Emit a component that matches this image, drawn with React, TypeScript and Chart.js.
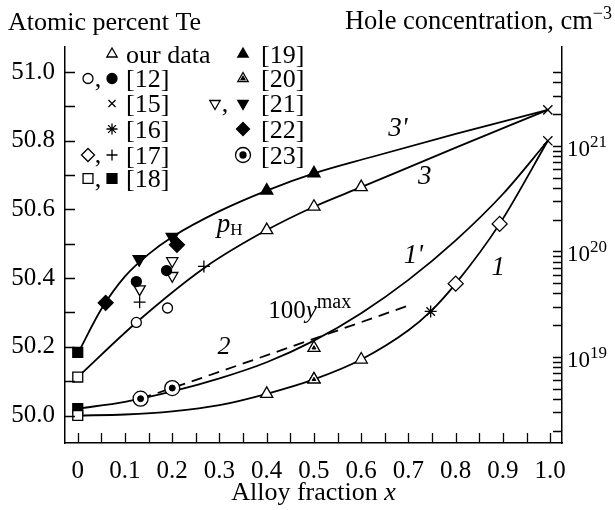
import React, { useEffect, useRef } from "react";
import { Chart, registerables } from "chart.js";
import { drawPoint } from "chart.js/helpers";

Chart.register(...registerables);

const FAMILY = "'Liberation Serif', 'Times New Roman', serif";
const f = (size: number, style = "normal") => `${style} ${size}px ${FAMILY}`;

// ---- axis ranges ----
const X_MIN = -0.027;
const X_MAX = 1.025;
const Y_MIN = 49.92;
const Y_MAX = 51.073;
const HOLE_MIN = 1.53e18;
const HOLE_MAX = 8.67e21;

// ---- ticks ----
const xTickValues = [0, 0.1, 0.2, 0.3, 0.4, 0.5, 0.6, 0.7, 0.8, 0.9, 1.0];
const xTickLabels = ["0", "0.1", "0.2", "0.3", "0.4", "0.5", "0.6", "0.7", "0.8", "0.9", "1.0"];
const xMinorTickValues = [0, 0.05, 0.1, 0.15, 0.2, 0.25, 0.3, 0.35, 0.4, 0.45, 0.5, 0.55, 0.6, 0.65, 0.7, 0.75, 0.8, 0.85, 0.9, 0.95, 1.0];
const yTickValues = [50.0, 50.2, 50.4, 50.6, 50.8, 51.0];
const yTickLabels = ["50.0", "50.2", "50.4", "50.6", "50.8", "51.0"];
const yMinorTickValues = [50.0, 50.1, 50.2, 50.3, 50.4, 50.5, 50.6, 50.7, 50.8, 50.9, 51.0];
const holeLabelExponents = [19, 20, 21];
const holeTickValues = [
  2e18, 3e18, 4e18, 5e18, 6e18, 7e18, 8e18, 9e18,
  1e19, 2e19, 3e19, 4e19, 5e19, 6e19, 7e19, 8e19, 9e19,
  1e20, 2e20, 3e20, 4e20, 5e20, 6e20, 7e20, 8e20, 9e20,
  1e21, 2e21, 3e21, 4e21, 5e21,
];

// ---- curves ----
const curve3pX = [0, 0.05, 0.1, 0.15, 0.2, 0.3, 0.4, 0.5, 0.62, 0.8, 0.995];
const curve3pY = [50.18, 50.31, 50.405, 50.47, 50.52, 50.595, 50.655, 50.705, 50.752, 50.82, 50.89];
const curve3X = [0, 0.124, 0.27, 0.4, 0.5, 0.6, 0.8, 0.995];
const curve3Y = [50.112, 50.271, 50.432, 50.54, 50.608, 50.665, 50.78, 50.89];
const curve1pX = [0, 0.1, 0.2, 0.3, 0.4, 0.5, 0.6, 0.7, 0.8, 0.9, 0.995];
const curve1pY = [50.02, 50.04, 50.07, 50.108, 50.155, 50.218, 50.298, 50.395, 50.51, 50.645, 50.8];
const curve1X = [0, 0.1, 0.2, 0.3, 0.4, 0.5, 0.6, 0.7, 0.747, 0.8, 0.893, 0.995];
const curve1Y = [50.0, 50.003, 50.012, 50.03, 50.063, 50.105, 50.163, 50.248, 50.303, 50.384, 50.558, 50.8];
const curve2X = [0.133, 0.2, 0.7];
const curve2Y = [50.049, 50.08, 50.32];

// ---- markers ----
const ourDataX = [0.4, 0.5, 0.6, 0.4, 0.5, 0.6];
const ourDataY = [50.54, 50.608, 50.665, 50.063, 50.105, 50.163];
const ref12OpenX = [0.124, 0.19];
const ref12OpenY = [50.271, 50.313];
const ref12FilledX = [0.124, 0.188];
const ref12FilledY = [50.39, 50.422];
const ref15X = [0.995, 0.995];
const ref15Y = [50.89, 50.8];
const ref16X = [0.747];
const ref16Y = [50.303];
const ref17DiamondX = [0.8, 0.893];
const ref17DiamondY = [50.384, 50.558];
const ref17PlusX = [0.131, 0.267];
const ref17PlusY = [50.33, 50.434];
const ref18OpenX = [0, 0];
const ref18OpenY = [50.0, 50.112];
const ref18FilledX = [0, 0];
const ref18FilledY = [50.02, 50.184];
const ref19X = [0.4, 0.5];
const ref19Y = [50.655, 50.705];
const ref20X = [0.5, 0.5];
const ref20Y = [50.197, 50.105];
const ref21OpenX = [0.131, 0.2, 0.2];
const ref21OpenY = [50.368, 50.45, 50.407];
const ref21FilledX = [0.13, 0.2];
const ref21FilledY = [50.455, 50.52];
const ref22X = [0.059, 0.21];
const ref22Y = [50.328, 50.497];
const ref23X = [0.133, 0.2];
const ref23Y = [50.049, 50.08];

const legendLeftLabels = ["our data", "[12]", "[15]", "[16]", "[17]", "[18]"];
const legendRightLabels = ["[19]", "[20]", "[21]", "[22]", "[23]"];

const pts = (xs: number[], ys: number[]) => xs.map((x, i) => ({ x, y: ys[i] }));

const BLACK = "#000";
const WHITE = "#fff";

function markerSet(xs: number[], ys: number[], style: string, radius: number, filled: boolean, rotation = 0, bw = 1.3) {
  return {
    data: pts(xs, ys),
    showLine: false,
    pointStyle: style,
    pointRadius: radius,
    pointRotation: rotation,
    pointBackgroundColor: filled ? BLACK : WHITE,
    pointBorderColor: BLACK,
    pointBorderWidth: bw,
    order: 0,
  };
}

function curveSet(xs: number[], ys: number[], dash: number[] = []) {
  return {
    data: pts(xs, ys),
    showLine: true,
    borderColor: BLACK,
    borderWidth: 1.8,
    borderDash: dash,
    pointRadius: 0,
    cubicInterpolationMode: "monotone",
    order: 1,
  };
}

type Sym =
  | "triOpen" | "triFilled" | "triDot" | "triDownOpen" | "triDownFilled"
  | "circOpen" | "circFilled" | "crossRot" | "star" | "cross"
  | "diaOpen" | "diaFilled" | "sqOpen" | "sqFilled" | "circDot";

function drawSym(ctx: CanvasRenderingContext2D, kind: Sym, x: number, y: number) {
  ctx.save();
  ctx.strokeStyle = BLACK;
  ctx.lineWidth = 1.3;
  const p = (style: string, radius: number, filled: boolean, rotation = 0) => {
    ctx.fillStyle = filled ? BLACK : WHITE;
    drawPoint(ctx, { pointStyle: style, radius, rotation, borderWidth: 1.3 } as any, x, y);
  };
  switch (kind) {
    case "triOpen": p("triangle", 6, false); break;
    case "triFilled": p("triangle", 6, true); break;
    case "triDot": p("triangle", 6, false); p("triangle", 2.2, true); break;
    case "triDownOpen": p("triangle", 6, false, 180); break;
    case "triDownFilled": p("triangle", 6, true, 180); break;
    case "circOpen": p("circle", 5, false); break;
    case "circFilled": p("circle", 5, true); break;
    case "crossRot": p("crossRot", 5, false); break;
    case "star": p("star", 5.5, false); break;
    case "cross": p("cross", 5.5, false); break;
    case "diaOpen": p("rectRot", 6.5, false); break;
    case "diaFilled": p("rectRot", 6.5, true); break;
    case "sqOpen": p("rect", 7, false); break;
    case "sqFilled": p("rect", 7, true); break;
    case "circDot": p("circle", 7.5, false); p("circle", 3, true); break;
  }
  ctx.restore();
}

type Run = { t: string; font: string; dy?: number };
function drawRuns(ctx: CanvasRenderingContext2D, x: number, y: number, parts: Run[], align: "left" | "center" | "right" = "left") {
  let total = 0;
  for (const r of parts) {
    ctx.font = r.font;
    total += ctx.measureText(r.t).width;
  }
  let cx = align === "left" ? x : align === "center" ? x - total / 2 : x - total;
  ctx.textAlign = "left";
  ctx.textBaseline = "alphabetic";
  for (const r of parts) {
    ctx.font = r.font;
    ctx.fillText(r.t, cx, y + (r.dy || 0));
    cx += ctx.measureText(r.t).width;
  }
}

const overlayPlugin = {
  id: "overlay",
  afterDraw(chart: any) {
    const ctx: CanvasRenderingContext2D = chart.ctx;
    const xs = chart.scales.x;
    const ys = chart.scales.y;
    const hs = chart.scales.y2;
    const a = chart.chartArea;
    ctx.save();
    ctx.strokeStyle = BLACK;
    ctx.fillStyle = BLACK;
    ctx.lineWidth = 1.3;

    // inward tick marks
    ctx.beginPath();
    for (const v of xMinorTickValues) {
      const px = Math.round(xs.getPixelForValue(v)) + 0.5;
      ctx.moveTo(px, a.bottom);
      ctx.lineTo(px, a.bottom - 10);
    }
    for (const v of yMinorTickValues) {
      const py = Math.round(ys.getPixelForValue(v)) + 0.5;
      ctx.moveTo(a.left, py);
      ctx.lineTo(a.left + 10, py);
    }
    for (const v of holeTickValues) {
      const py = Math.round(hs.getPixelForValue(v)) + 0.5;
      ctx.moveTo(a.right, py);
      ctx.lineTo(a.right - 9, py);
    }
    ctx.stroke();

    // right axis labels 10^n
    for (const e of holeLabelExponents) {
      const py = hs.getPixelForValue(Math.pow(10, e));
      drawRuns(ctx, a.right + 5, py + 10, [
        { t: "10", font: f(23) },
        { t: String(e), font: f(17), dy: -9 },
      ]);
    }

    // axis titles
    drawRuns(ctx, 8, 30, [{ t: "Atomic percent Te", font: f(26) }]);
    drawRuns(ctx, 612, 29, [
      { t: "Hole concentration, cm", font: f(26.5) },
      { t: "\u22123", font: f(18), dy: -10 },
    ], "right");
    drawRuns(ctx, (a.left + a.right) / 2, 500, [
      { t: "Alloy fraction ", font: f(26) },
      { t: "x", font: f(26, "italic") },
    ], "center");

    // curve labels (data coordinates)
    const P = (x: number, y: number) => [xs.getPixelForValue(x), ys.getPixelForValue(y)];
    let q = P(0.657, 50.815);
    drawRuns(ctx, q[0], q[1], [{ t: "3'", font: f(27, "italic") }]);
    q = P(0.72, 50.675);
    drawRuns(ctx, q[0], q[1], [{ t: "3", font: f(27, "italic") }]);
    q = P(0.294, 50.535);
    drawRuns(ctx, q[0], q[1], [
      { t: "p", font: f(27, "italic") },
      { t: "H", font: f(17), dy: 3 },
    ]);
    q = P(0.69, 50.445);
    drawRuns(ctx, q[0], q[1], [{ t: "1'", font: f(27, "italic") }]);
    q = P(0.876, 50.41);
    drawRuns(ctx, q[0], q[1], [{ t: "1", font: f(27, "italic") }]);
    q = P(0.296, 50.18);
    drawRuns(ctx, q[0], q[1], [{ t: "2", font: f(26, "italic") }]);
    q = P(0.403, 50.285);
    drawRuns(ctx, q[0], q[1], [
      { t: "100", font: f(25) },
      { t: "y", font: f(25, "italic") },
      { t: "max", font: f(20), dy: -10 },
    ]);

    // legend
    const rows = [54, 78.5, 103.5, 129, 155, 178.5];
    const leftSyms: Sym[][] = [["triOpen"], ["circOpen", "circFilled"], ["crossRot"], ["star"], ["diaOpen", "cross"], ["sqOpen", "sqFilled"]];
    const rightSyms: Sym[][] = [["triFilled"], ["triDot"], ["triDownOpen", "triDownFilled"], ["diaFilled"], ["circDot"]];
    const drawCol = (syms: Sym[][], labels: string[], xa: number, xc: number, xb: number, xt: number) => {
      syms.forEach((s, i) => {
        const y = rows[i];
        if (s.length === 2) {
          drawSym(ctx, s[0], xa, y);
          ctx.fillStyle = BLACK;
          ctx.font = f(26);
          ctx.textAlign = "center";
          ctx.textBaseline = "alphabetic";
          ctx.fillText(",", xc, y + 8);
          drawSym(ctx, s[1], xb, y);
        } else {
          drawSym(ctx, s[0], xb, y);
        }
        ctx.fillStyle = BLACK;
        ctx.font = f(26);
        ctx.textAlign = "left";
        ctx.textBaseline = "middle";
        ctx.fillText(labels[i], xt, y + 2);
      });
    };
    drawCol(leftSyms, legendLeftLabels, 88, 98, 112, 126);
    drawCol(rightSyms, legendRightLabels, 215, 225, 243, 261);

    ctx.restore();
  },
};

export default function App() {
  const ref = useRef<HTMLCanvasElement>(null);
  useEffect(() => {
    if (!ref.current) return;
    const chart = new Chart(ref.current, {
      type: "scatter",
      data: {
        datasets: [
          markerSet(ref23X, ref23Y, "circle", 3, true, 0, 1),
          markerSet(ref23X, ref23Y, "circle", 7.5, false),
          markerSet(ref20X, ref20Y, "triangle", 2.2, true, 0, 1),
          markerSet(ref20X, ref20Y, "triangle", 7, false),
          markerSet(ourDataX, ourDataY, "triangle", 7, false),
          markerSet(ref12OpenX, ref12OpenY, "circle", 5, false),
          markerSet(ref12FilledX, ref12FilledY, "circle", 5, true),
          markerSet(ref15X, ref15Y, "crossRot", 6.5, false),
          markerSet(ref16X, ref16Y, "star", 6, false),
          markerSet(ref17DiamondX, ref17DiamondY, "rectRot", 7.5, false),
          markerSet(ref17PlusX, ref17PlusY, "cross", 6, false),
          markerSet(ref18OpenX, ref18OpenY, "rect", 7, false),
          markerSet(ref18FilledX, ref18FilledY, "rect", 7, true),
          markerSet(ref19X, ref19Y, "triangle", 7, true),
          markerSet(ref21OpenX, ref21OpenY, "triangle", 6.5, false, 180),
          markerSet(ref21FilledX, ref21FilledY, "triangle", 7, true, 180),
          markerSet(ref22X, ref22Y, "rectRot", 7.5, true),
          curveSet(curve3pX, curve3pY),
          curveSet(curve3X, curve3Y),
          curveSet(curve1pX, curve1pY),
          curveSet(curve1X, curve1Y),
          curveSet(curve2X, curve2Y, [11, 7]),
        ] as any,
      },
      options: {
        responsive: false,
        animation: false,
        devicePixelRatio: 1,
        layout: { padding: { top: 47, left: 0, right: 0, bottom: 0 } },
        plugins: { legend: { display: false }, tooltip: { enabled: false } },
        events: [],
        scales: {
          x: {
            type: "linear",
            position: "bottom",
            min: X_MIN,
            max: X_MAX,
            grid: { display: false, drawTicks: false },
            border: { display: true, color: BLACK, width: 1.5 },
            afterBuildTicks: (s: any) => {
              s.ticks = xTickValues.map((v) => ({ value: v }));
            },
            ticks: {
              autoSkip: false,
              maxRotation: 0,
              padding: 13,
              color: BLACK,
              font: { family: FAMILY, size: 25 },
              callback: (_v: any, i: number) => xTickLabels[i],
            },
            afterFit: (s: any) => {
              s.height = 67;
            },
          },
          y: {
            type: "linear",
            position: "left",
            min: Y_MIN,
            max: Y_MAX,
            grid: { display: false, drawTicks: false },
            border: { display: true, color: BLACK, width: 1.5 },
            afterBuildTicks: (s: any) => {
              s.ticks = yTickValues.map((v) => ({ value: v }));
            },
            ticks: {
              autoSkip: false,
              padding: 10,
              color: BLACK,
              font: { family: FAMILY, size: 25 },
              callback: (_v: any, i: number) => yTickLabels[i],
            },
            afterFit: (s: any) => {
              s.width = 65;
            },
          },
          y2: {
            type: "logarithmic",
            position: "right",
            min: HOLE_MIN,
            max: HOLE_MAX,
            grid: { display: false, drawTicks: false },
            border: { display: true, color: BLACK, width: 1.5 },
            ticks: { display: false },
            afterFit: (s: any) => {
              s.width = 53;
            },
          },
        },
      } as any,
      plugins: [overlayPlugin],
    });
    return () => chart.destroy();
  }, []);
  return (
    <div style={{ position: "absolute", left: 0, top: 0, width: 615, height: 510, background: "#fff" }}>
      <canvas ref={ref} width={615} height={510} style={{ display: "block", width: 615, height: 510 }} />
    </div>
  );
}
